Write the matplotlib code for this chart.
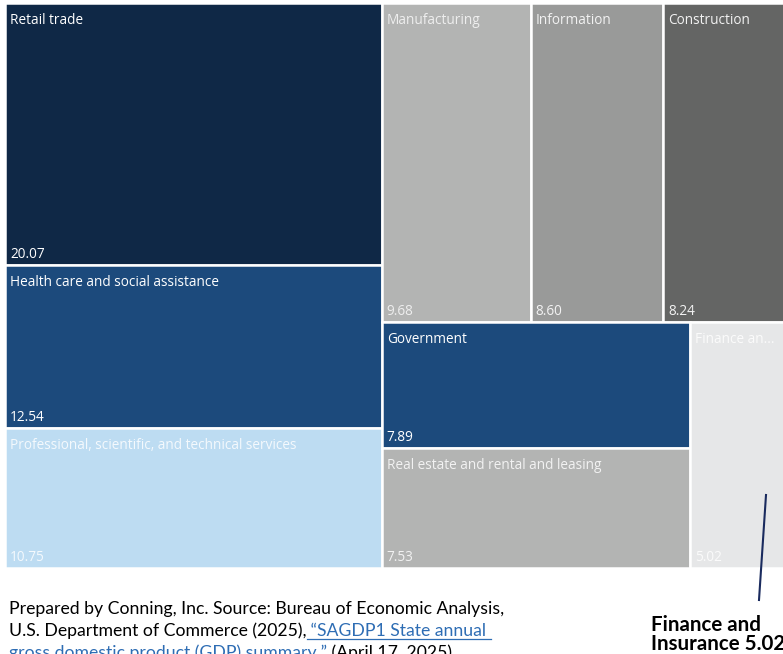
import matplotlib.pyplot as plt
from matplotlib.patches import Rectangle

# GDP share by industry (%)
left_names = ["Retail trade", "Health care and social assistance",
              "Professional, scientific, and technical services"]
left_vals = [20.07, 12.54, 10.75]
top_names = ["Manufacturing", "Information", "Construction"]
top_vals = [9.68, 8.60, 8.24]
stack_names = ["Government", "Real estate and rental and leasing"]
stack_vals = [7.89, 7.53]
side_name = "Finance an..."
side_val = 5.02

left_colors = ["#0f2846", "#1c4a7c", "#bddcf2"]
top_colors = ["#b3b4b3", "#999a99", "#646564"]
stack_colors = ["#1c4a7c", "#b3b4b3"]
side_color = "#e6e7e8"
left_text = ["white", "white", "#f4f9fd"]
top_text = ["#eeeeee", "#f2f2f2", "#f2f2f2"]
stack_text = ["white", "#f2f2f2"]
side_text = "#fbfbfb"

W, H = 785.0, 565.0
fig = plt.figure(figsize=(7.83, 6.54), dpi=100)
ax = fig.add_axes([5 / 783, 86 / 654, W / 783, H / 654])
ax.set_xlim(0, W)
ax.set_ylim(H, 0)
ax.axis("off")

total = sum(left_vals) + sum(top_vals) + sum(stack_vals) + side_val
rects = []

# left column, stacked top to bottom
wl = W * sum(left_vals) / total
y = 0
for n, v, c, t in zip(left_names, left_vals, left_colors, left_text):
    h = H * v / sum(left_vals)
    rects.append((0, y, wl, h, n, v, c, t))
    y += h

# remaining block
rest = total - sum(left_vals)
wr = W - wl
ht = H * sum(top_vals) / rest
x = wl
for n, v, c, t in zip(top_names, top_vals, top_colors, top_text):
    w = wr * v / sum(top_vals)
    rects.append((x, 0, w, ht, n, v, c, t))
    x += w

hb = H - ht
bot = sum(stack_vals) + side_val
ws = wr * sum(stack_vals) / bot
y = ht
for n, v, c, t in zip(stack_names, stack_vals, stack_colors, stack_text):
    h = hb * v / sum(stack_vals)
    rects.append((wl, y, ws, h, n, v, c, t))
    y += h
rects.append((wl + ws, ht, wr - ws, hb, side_name, side_val, side_color, side_text))

font = ["Open Sans", "DejaVu Sans"]
for x0, y0, w, h, n, v, c, t in rects:
    ax.add_patch(Rectangle((x0, y0), w, h, facecolor=c, edgecolor="white", linewidth=1.8))
    ax.text(x0 + 5, y0 + 10, n, color=t, fontsize=9.8, family=font, va="top", ha="left")
    ax.text(x0 + 5, y0 + h - 3, f"{v:.2f}", color=t, fontsize=9.8, family=font,
            va="bottom", ha="left")

# callout line to the finance tile
fig.add_artist(plt.Line2D([766 / 783, 759 / 783], [1 - 495 / 654, 1 - 600 / 654],
                          color="#1a2b5e", linewidth=1.5))
narrow = ["Lato", "DejaVu Sans"]
fig.text(651 / 783, 1 - 650 / 654, "Finance and\nInsurance 5.02", fontsize=14.8,
         fontweight="bold", family=narrow, color="black", ha="left", va="baseline",
         linespacing=0.95)

# source note with the report title in link style
renderer = fig.canvas.get_renderer()
src_size = 12.7
link_color = "#2e6db4"


def put(x, ybase, s, color="black", underline=False):
    txt = fig.text(x / 783, 1 - ybase / 654, s, fontsize=src_size, family=narrow,
                   color=color, ha="left", va="baseline")
    bb = txt.get_window_extent(renderer)
    if underline:
        yl = 1 - (ybase + 3) / 654
        fig.add_artist(plt.Line2D([bb.x0 / 783, bb.x1 / 783], [yl, yl],
                                  color=color, linewidth=0.9))
    return bb.x1


put(9, 614, "Prepared by Conning, Inc. Source: Bureau of Economic Analysis,")
x2 = put(9, 636, "U.S. Department of Commerce (2025),")
put(x2, 636, " \u201cSAGDP1 State annual ", color=link_color, underline=True)
x3 = put(9, 658, "gross domestic product (GDP) summary,\u201d", color=link_color, underline=True)
put(x3, 658, " (April 17, 2025).")

fig.savefig("out.png", dpi=100)
